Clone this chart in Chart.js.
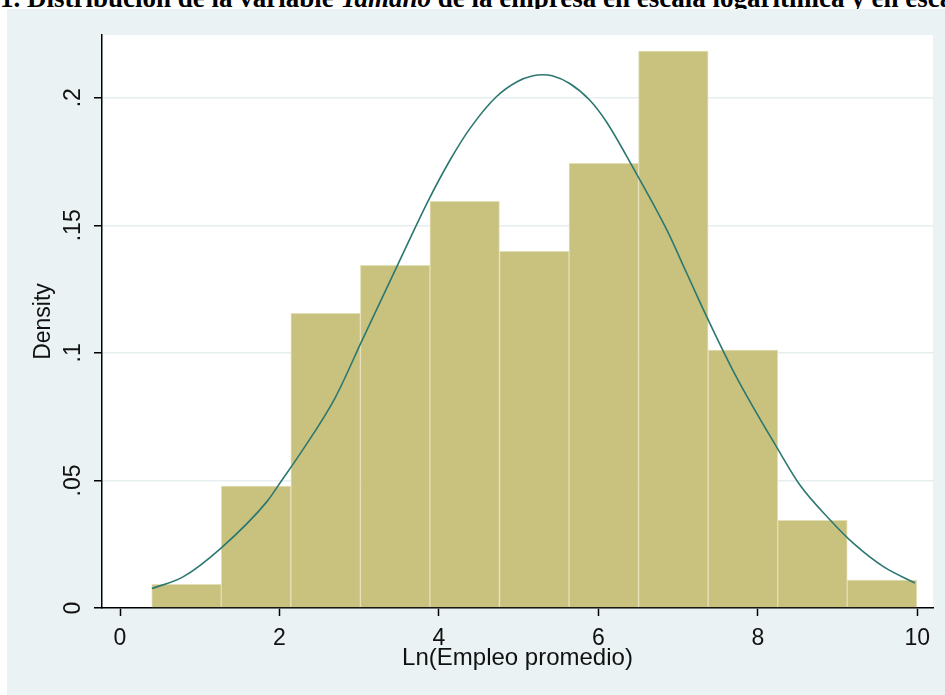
<!DOCTYPE html>
<html>
<head>
<meta charset="utf-8">
<script src="https://cdn.jsdelivr.net/npm/chart.js@4.4.1/dist/chart.umd.min.js"></script>
<style>
  html, body { margin: 0; padding: 0; background: #fff; overflow: hidden; }
  body { width: 945px; height: 695px; position: relative; }
  #titulo {
    position: absolute; left: 0; top: -16px; white-space: nowrap;
    font-family: "Liberation Serif", "Times New Roman", serif;
    font-weight: bold; font-size: 27px; line-height: 29px; color: #000;
  }
  #panel { position: absolute; left: 7px; top: 9px; width: 938px; height: 686px; }
</style>
</head>
<body>
<div id="titulo">1. Distribución de la variable <i>Tamaño</i> de la empresa en escala logarítmica y en escala</div>
<div id="panel"><canvas id="grafico" width="938" height="686"></canvas></div>
<script>
// Histograma: centro de cada intervalo y densidad
const binCenters = [0.834, 1.706, 2.579, 3.451, 4.323, 5.196, 6.068, 6.940, 7.813, 8.685, 9.557]
const binDensity = [0.0093, 0.0478, 0.1155, 0.1343, 0.1594, 0.1398, 0.1743, 0.2183, 0.1011, 0.0344, 0.0109]

// Curva normal superpuesta
const curveX = [0.40, 0.79, 1.26, 1.84, 2.03, 2.26, 2.70, 3.03, 3.49, 3.87, 4.14, 4.39, 4.72, 4.98, 5.18, 5.30,
                5.42, 5.64, 5.89, 6.10, 6.44, 6.86, 7.11, 7.36, 7.73, 8.26, 8.53, 8.91, 9.20, 9.58, 9.97]
const curveY = [0.0076, 0.0122, 0.0233, 0.0416, 0.0501, 0.0605, 0.0825, 0.1045, 0.1350, 0.1599, 0.1756, 0.1880, 0.2004, 0.2063, 0.2086, 0.2090,
                0.2086, 0.2056, 0.1991, 0.1906, 0.1723, 0.1481, 0.1311, 0.1141, 0.0906, 0.0618, 0.0481, 0.0344, 0.0253, 0.0161, 0.0098]

const xTicks = [0, 2, 4, 6, 8, 10]
const yTicks = [0, 0.05, 0.1, 0.15, 0.2]
const yTickLabels = ['0', '.05', '.1', '.15', '.2']

// Fondo del panel y región blanca del gráfico
const plotBg = {
  id: 'plotBg',
  beforeDraw(chart) {
    const { ctx, chartArea: a } = chart
    ctx.save()
    ctx.fillStyle = '#eaf2f3'
    ctx.fillRect(0, 0, chart.width, chart.height)
    ctx.fillStyle = '#ffffff'
    ctx.fillRect(a.left, a.top, a.right - a.left, a.bottom - a.top)
    ctx.restore()
  }
}

Chart.defaults.font.family = "'Liberation Sans', Arial, sans-serif"
Chart.defaults.color = '#111'

new Chart(document.getElementById('grafico'), {
  type: 'bar',
  data: {
    datasets: [
      {
        type: 'line',
        label: 'Normal',
        data: curveX.map((x, i) => ({ x: x, y: curveY[i] })),
        borderColor: '#2c7870',
        borderWidth: 1.6,
        pointRadius: 0,
        cubicInterpolationMode: 'monotone',
        fill: false,
        order: 0
      },
      {
        type: 'bar',
        label: 'Density',
        data: binCenters.map((x, i) => ({ x: x, y: binDensity[i] })),
        backgroundColor: '#c9c27f',
        borderColor: '#e3dfb6',
        borderWidth: 1,
        borderSkipped: 'start',
        barPercentage: 1,
        categoryPercentage: 1,
        order: 1
      }
    ]
  },
  options: {
    responsive: false,
    animation: false,
    devicePixelRatio: 1,
    layout: { padding: { top: 26, right: 12, left: 0, bottom: 0 } },
    plugins: {
      legend: { display: false },
      tooltip: { enabled: false }
    },
    scales: {
      x: {
        type: 'linear',
        offset: false,
        min: -0.226,
        max: 10.197,
        afterBuildTicks: (scale) => { scale.ticks = xTicks.map(v => ({ value: v })) },
        afterFit: (scale) => { scale.height = 87 },
        ticks: {
          font: { size: 23 },
          padding: 9,
          callback: (v) => String(v)
        },
        grid: {
          offset: false,
          drawOnChartArea: false,
          tickColor: '#000',
          tickLength: 8,
          tickWidth: 1.5
        },
        border: { display: true, color: '#000', width: 1.5 },
        title: {
          display: true,
          text: 'Ln(Empleo promedio)',
          font: { size: 24 },
          padding: { top: 0, bottom: 22 }
        }
      },
      y: {
        min: 0,
        max: 0.2246,
        afterBuildTicks: (scale) => { scale.ticks = yTicks.map(v => ({ value: v })) },
        afterFit: (scale) => { scale.width = 95 },
        ticks: {
          font: { size: 23 },
          padding: 4,
          minRotation: 90,
          maxRotation: 90,
          crossAlign: 'center',
          callback: (v) => yTickLabels[yTicks.indexOf(v)]
        },
        grid: {
          color: '#e6eef0',
          lineWidth: 1.5,
          tickColor: '#000',
          tickLength: 8,
          tickWidth: 1.5
        },
        border: { display: true, color: '#000', width: 1.5 },
        title: {
          display: true,
          text: 'Density',
          font: { size: 23 },
          padding: { top: 23, bottom: 0 }
        }
      }
    }
  },
  plugins: [plotBg]
})
</script>
</body>
</html>
